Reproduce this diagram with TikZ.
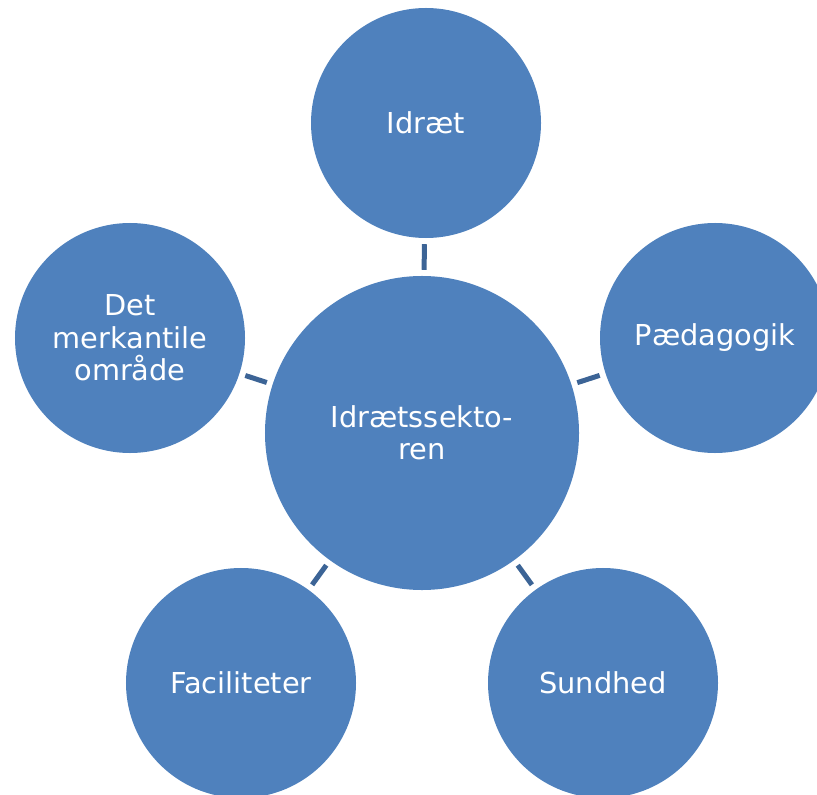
\documentclass[tikz,border=0pt]{standalone}
\usepackage{fontspec}
\setmainfont{DejaVu Sans}
\definecolor{bluefill}{HTML}{4F81BD}
\definecolor{blueline}{HTML}{3C6496}
\tikzset{
	outer/.style={circle, fill = bluefill, minimum size = 6.9cm, inner sep = 0pt, text = white, align = center, font = \fontsize{24.6}{27.6}\selectfont},
	hub/.style={outer, minimum size = 9.42cm},
	link/.style={draw = blueline, line width = 0.15cm, shorten >=0.18cm, shorten <=0.18cm}
}
\begin{document}
\begin{tikzpicture}[x=0.03cm, y=-0.03cm]
	\useasboundingbox (0,0) rectangle (817,795);
	\node (C) at (422, 433)	[hub]	{Idrætssekto-\\ren};
	\node (I) at (426, 123)	[outer]	{Idræt};
	\node (P) at (715, 338)	[outer]	{Pædagogik};
	\node (S) at (603, 683)	[outer]	{Sundhed};
	\node (F) at (241, 683)	[outer]	{Faciliteter};
	\node (M) at (130, 338)	[outer]	{Det\\merkantile\\område};
	\draw[link] (C) -- (I);
	\draw[link] (C) -- (P);
	\draw[link] (C) -- (S);
	\draw[link] (C) -- (F);
	\draw[link] (C) -- (M);
\end{tikzpicture}
\end{document}
